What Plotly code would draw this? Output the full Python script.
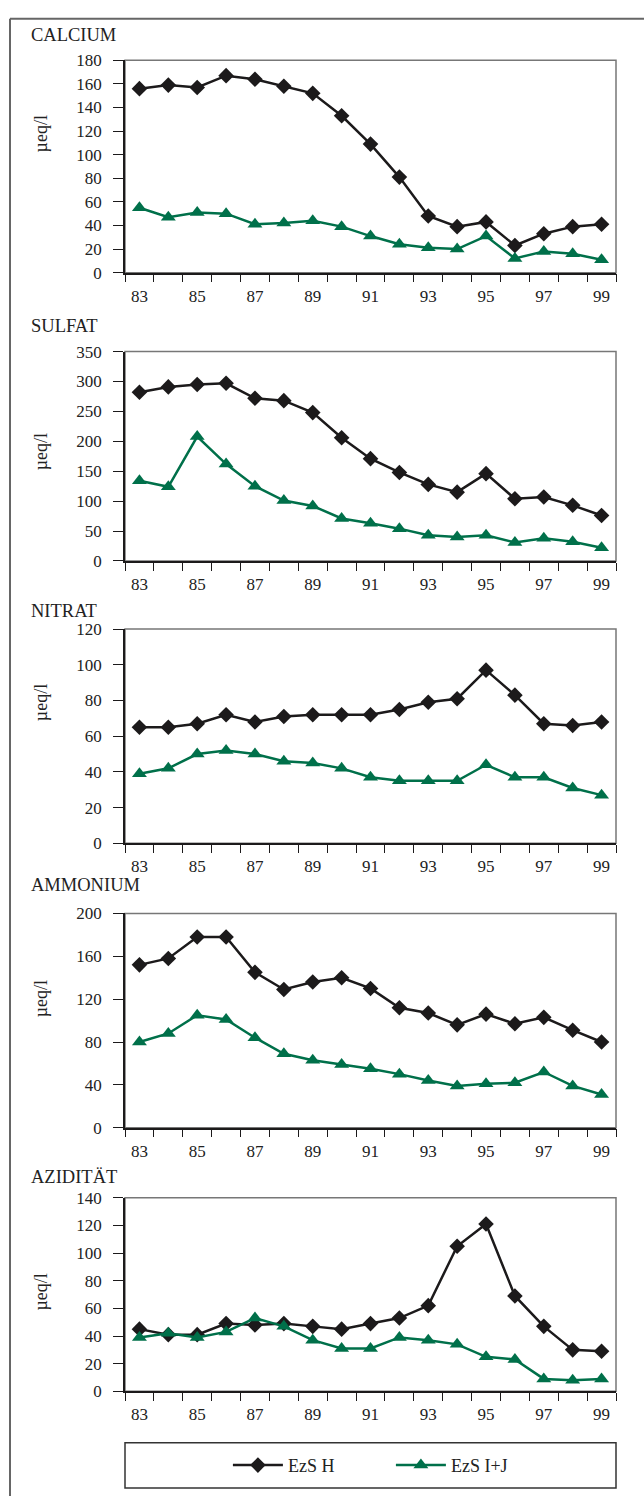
import plotly.graph_objects as go
from plotly.subplots import make_subplots

W, H = 644, 1506

years = list(range(83, 100))
year_labels = [str(y) for y in range(83, 100, 2)]

panel_titles = ["CALCIUM", "SULFAT", "NITRAT", "AMMONIUM", "AZIDITÄT"]
y_max = [180, 350, 120, 200, 140]
y_step = [20, 50, 20, 40, 20]

calcium_h = [156, 159, 157, 167, 164, 158, 152, 133, 109, 81, 48, 39, 43, 23, 33, 39, 41]
calcium_ij = [55, 47, 51, 50, 41, 42, 44, 39, 31, 24, 21, 20, 31, 12, 18, 16, 11]
sulfat_h = [282, 291, 295, 297, 272, 268, 248, 206, 171, 148, 128, 115, 146, 104, 107, 93, 76]
sulfat_ij = [134, 124, 208, 162, 125, 101, 92, 71, 63, 54, 43, 40, 43, 31, 38, 32, 22]
nitrat_h = [65, 65, 67, 72, 68, 71, 72, 72, 72, 75, 79, 81, 97, 83, 67, 66, 68]
nitrat_ij = [39, 42, 50, 52, 50, 46, 45, 42, 37, 35, 35, 35, 44, 37, 37, 31, 27]
ammonium_h = [152, 158, 178, 178, 145, 129, 136, 140, 130, 112, 107, 96, 106, 97, 103, 91, 80]
ammonium_ij = [80, 88, 105, 101, 84, 69, 63, 59, 55, 50, 44, 39, 41, 42, 52, 39, 31]
aziditaet_h = [45, 41, 41, 49, 48, 49, 47, 45, 49, 53, 62, 105, 121, 69, 47, 30, 29]
aziditaet_ij = [39, 42, 39, 43, 53, 47, 37, 31, 31, 39, 37, 34, 25, 23, 9, 8, 9]

series_h = [calcium_h, sulfat_h, nitrat_h, ammonium_h, aziditaet_h]
series_ij = [calcium_ij, sulfat_ij, nitrat_ij, ammonium_ij, aziditaet_ij]

# pixel layout of the panels (top, bottom) and the titles
panel_px = [(52, 267), (347, 559), (628, 845), (916, 1133), (1204, 1400)]
title_px = [26, 321, 610, 887, 1183]
ytitle_px = [127, 449, 703, 1003, 1300]
left_px, right_px = 125, 616

BLACK = "#1c1a1b"
GREEN = "#00704a"
FONT = "Liberation Serif"

fig = make_subplots(rows=5, cols=1)

for i in range(5):
    r = i + 1
    fig.add_trace(go.Scatter(
        x=years, y=series_h[i], mode="lines+markers", name="EzS H",
        line=dict(color=BLACK, width=2.5),
        marker=dict(symbol="diamond", size=12, color=BLACK),
        showlegend=(i == 0)), row=r, col=1)
    fig.add_trace(go.Scatter(
        x=years, y=series_ij[i], mode="lines+markers", name="EzS I+J",
        line=dict(color=GREEN, width=2.5),
        marker=dict(symbol="triangle-up", size=13, color=GREEN),
        showlegend=(i == 0)), row=r, col=1)

    top, bot = panel_px[i]
    xa = "xaxis" if i == 0 else f"xaxis{r}"
    ya = "yaxis" if i == 0 else f"yaxis{r}"
    fig.layout[xa].update(
        domain=[left_px / W, right_px / W],
        range=[82.5, 99.5], tickmode="array",
        tickvals=[int(t) for t in year_labels], ticktext=year_labels,
        ticks="", ticklabelstandoff=7, showgrid=False, zeroline=False,
        showline=True, linecolor=BLACK, linewidth=1.5,
        minor=dict(tickmode="linear", tick0=82.5, dtick=1, ticks="outside",
                   ticklen=8, tickcolor=BLACK, tickwidth=1.2, showgrid=False),
        tickfont=dict(family=FONT, size=17, color="#222"))
    fig.layout[ya].update(
        domain=[1 - bot / H, 1 - top / H],
        range=[0, y_max[i]], dtick=y_step[i], tick0=0,
        ticks="outside", ticklen=10, tickcolor=BLACK, tickwidth=1.2,
        ticklabelstandoff=8,
        showgrid=False, zeroline=False,
        showline=True, linecolor=BLACK, linewidth=1.5,
        tickfont=dict(family=FONT, size=17, color="#222"))

    xref = "x" if i == 0 else f"x{r}"
    yref = "y" if i == 0 else f"y{r}"
    fig.add_shape(type="rect", xref=f"{xref} domain", yref=f"{yref} domain",
                  x0=0, x1=1, y0=0, y1=1, layer="below",
                  line=dict(color="#777", width=1.5))

    fig.add_annotation(text=panel_titles[i], xref="paper", yref="paper",
                       x=29 / W, y=1 - title_px[i] / H, xanchor="left",
                       yanchor="middle", showarrow=False,
                       font=dict(family=FONT, size=18.5, color="#222"))
    fig.add_annotation(text="µeq/l", xref="paper", yref="paper",
                       x=41 / W, y=1 - ytitle_px[i] / H, textangle=-90,
                       xanchor="center", yanchor="middle", showarrow=False,
                       font=dict(family=FONT, size=18, color="#222"))

# legend frame and page border
fig.add_shape(type="rect", xref="paper", yref="paper",
              x0=left_px / W, x1=right_px / W, y0=1 - 1498 / H, y1=1 - 1452 / H,
              line=dict(color="#333", width=1.5))
fig.add_shape(type="line", xref="paper", yref="paper",
              x0=10 / W, x1=1, y0=1 - 10 / H, y1=1 - 10 / H,
              line=dict(color="#666", width=2))
fig.add_shape(type="line", xref="paper", yref="paper",
              x0=10 / W, x1=10 / W, y0=0, y1=1 - 10 / H,
              line=dict(color="#666", width=2))

fig.update_layout(
    width=W, height=H,
    margin=dict(l=0, r=0, t=0, b=0),
    paper_bgcolor="white", plot_bgcolor="white",
    font=dict(family=FONT, color="#222"),
    legend=dict(orientation="h", x=0.607, xanchor="center",
                y=1 - 1475 / H, yanchor="middle",
                font=dict(family=FONT, size=18, color="#222"),
                itemwidth=50, entrywidth=98, bgcolor="rgba(0,0,0,0)"),
)

fig.write_html("out.html", config={"displayModeBar": False},
               post_script="document.body.style.margin='0';")
